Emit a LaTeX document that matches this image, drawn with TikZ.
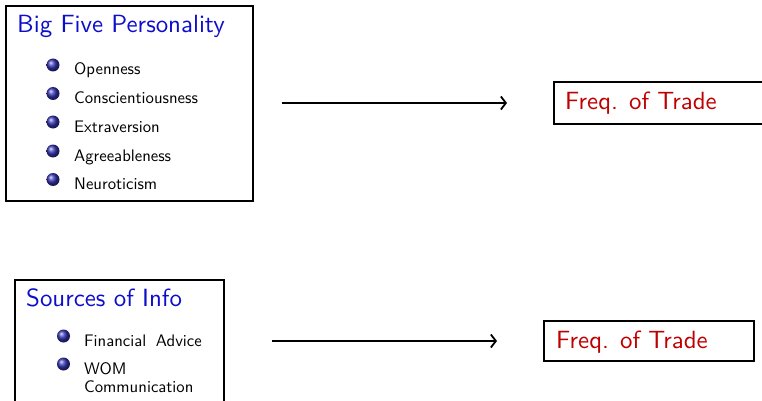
\documentclass[tikz,border=0pt]{standalone}
\usepackage{fontspec}
\setsansfont{lmsans10-regular.otf}
\usetikzlibrary{shadings,arrows.meta}
\definecolor{titleblue}{rgb}{0.05,0.05,0.8}
\definecolor{freqred}{rgb}{0.75,0,0}
\definecolor{ballblue}{rgb}{0.2,0.2,0.7}
\tikzset{
  box/.style={draw=black, line width=2pt, rectangle, inner sep=0pt},
  ttl/.style={anchor=base west, inner sep=0pt, text=titleblue, font=\sffamily\fontsize{24.9}{28}\selectfont},
  frq/.style={anchor=base west, inner sep=0pt, text=freqred, font=\sffamily\fontsize{24.9}{28}\selectfont},
  itm/.style={anchor=base west, inner sep=0pt, text=black, font=\sffamily\fontsize{16.7}{20}\selectfont},
  bul/.style={circle, inner sep=0pt, minimum size=13pt, ball color=ballblue},
  arr/.style={-{Straight Barb[length=5pt, width=13pt]}, line width=1.8pt}
}
\begin{document}
\begin{tikzpicture}[x=1pt, y=-1pt]
\useasboundingbox (0,0) rectangle (762,401);
\clip (0,0) rectangle (762,401);
% boxes
\node[box, minimum width=247pt, minimum height=195pt] (b1) at (129.5,103.5) {};
\node[box, minimum width=210pt, minimum height=42pt] (f1) at (659,103) {};
\node[box, minimum width=209pt, minimum height=121.5pt] (b2) at (119.5,340.75) {};
\node[box, minimum width=210pt, minimum height=40pt] (f2) at (649,341) {};
% titles
\node[ttl] (t1) at (17,33) {Big Five Personality};
\node[ttl] (t2) at (26,306) {Sources of Info};
\node[frq] (q1) at (565,110) {Freq. of Trade};
\node[frq] (q2) at (556,348) {Freq. of Trade};
% items box 1
\node[bul] (u1) at (53,65) {};
\node[itm] (i1) at (74,75) {Openness};
\node[bul] (u2) at (53,93.5) {};
\node[itm] (i2) at (74,103.5) {Conscientiousness};
\node[bul] (u3) at (53,122) {};
\node[itm] (i3) at (74,132) {Extraversion};
\node[bul] (u4) at (53,151) {};
\node[itm] (i4) at (74,161) {Agreeableness};
\node[bul] (u5) at (53,179.5) {};
\node[itm] (i5) at (74,189.5) {Neuroticism};
% items box 2
\node[bul] (v1) at (63.5,336) {};
\node[itm] (j1) at (84,346) {Financial\hspace{4pt} Advice};
\node[bul] (v2) at (63.5,364) {};
\node[itm] (j2) at (84,374) {WOM};
\node[itm] (j3) at (84,392) {Communication};
% arrows
\draw[arr, shorten <=28pt, shorten >=46pt] (b1.east |- f1.west) -- (f1.west);
\draw[arr, shorten <=47pt, shorten >=46pt] (b2.east |- f2.west) -- (f2.west);
\end{tikzpicture}
\end{document}
